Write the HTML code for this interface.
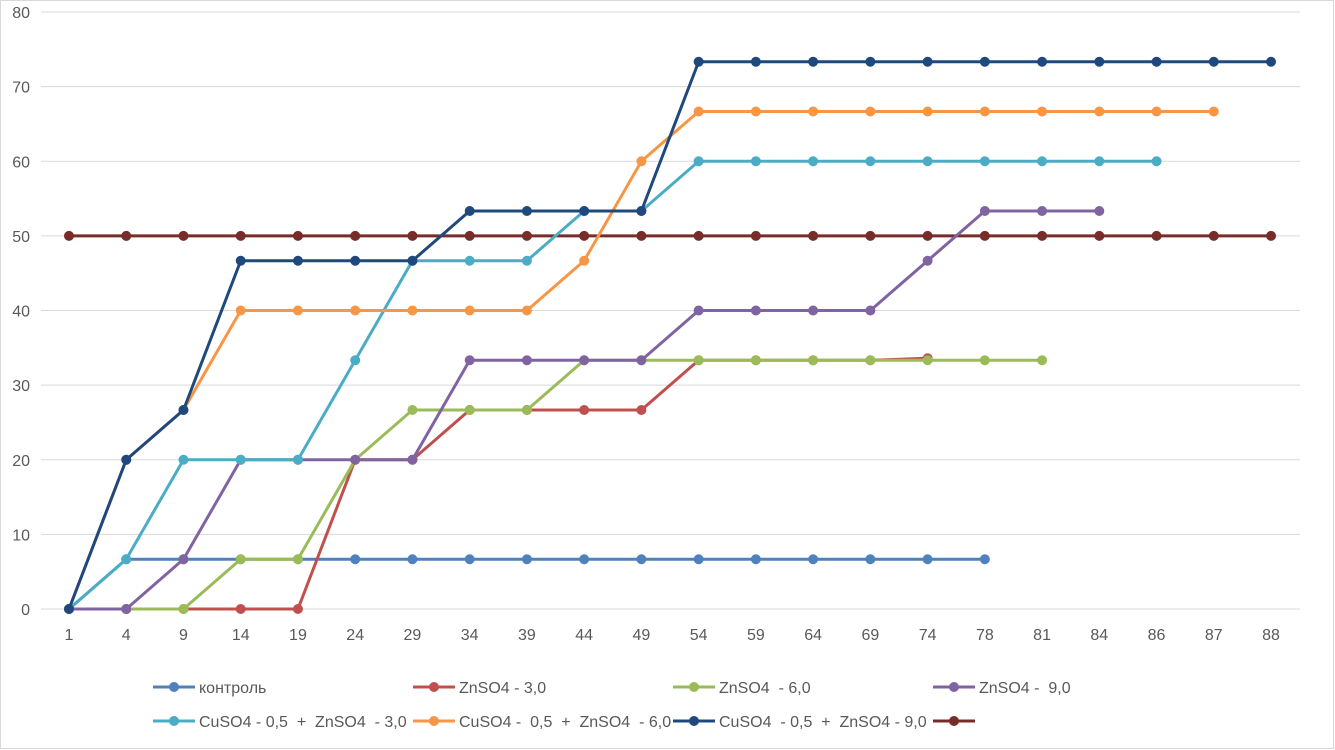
<!DOCTYPE html>
<html><head><meta charset="utf-8"><style>
body{margin:0;background:#fff}
svg{display:block;font-family:"Liberation Sans",sans-serif}
</style></head><body>
<svg id="c" width="1335" height="750" xmlns="http://www.w3.org/2000/svg"></svg>
<script>
const s=document.getElementById('c');let h='';
h+='<rect x="0.5" y="0.5" width="1333" height="748" fill="#fff" stroke="#d9d9d9"/>';
const Y=v=>609-v*7.4625, X=i=>69+i*57.24;
for(let v=0;v<=80;v+=10){h+=`<line x1="41" x2="1300" y1="${Y(v)}" y2="${Y(v)}" stroke="#d9d9d9"/>`;
h+=`<text x="30" y="${Y(v)+6}" text-anchor="end" font-size="16" fill="#595959">${v}</text>`;}
const cats=[1,4,9,14,19,24,29,34,39,44,49,54,59,64,69,74,78,81,84,86,87,88];
cats.forEach((c,i)=>h+=`<text x="${X(i)}" y="640" text-anchor="middle" font-size="16" fill="#595959">${c}</text>`);
const a=6.67,b=26.67,c3=33.33,d=46.67,e=53.33,f=66.67,g=73.33;
const S=[
['#4F81BD','контроль',[0,a,a,a,a,a,a,a,a,a,a,a,a,a,a,a,a]],
['#C0504D','ZnSO4 - 3,0',[0,0,0,0,0,20,20,b,b,b,b,c3,c3,c3,c3,33.6]],
['#9BBB59','ZnSO4  - 6,0',[0,0,0,a,a,20,b,b,b,c3,c3,c3,c3,c3,c3,c3,c3,c3]],
['#8064A2','ZnSO4 -  9,0',[0,0,a,20,20,20,20,c3,c3,c3,c3,40,40,40,40,d,e,e,e]],
['#4BACC6','CuSO4 - 0,5  +  ZnSO4  - 3,0',[0,a,20,20,20,c3,d,d,d,e,e,60,60,60,60,60,60,60,60,60]],
['#F79646','CuSO4 -  0,5  +  ZnSO4  - 6,0',[0,20,b,40,40,40,40,40,40,d,60,f,f,f,f,f,f,f,f,f,f]],
['#1F497D','CuSO4  - 0,5  +  ZnSO4 - 9,0',[0,20,b,d,d,d,d,e,e,e,e,g,g,g,g,g,g,g,g,g,g,g]],
['#772C2A','',Array(22).fill(50)]];
const ord=[7,0,1,2,3,4,5,6];
S.forEach((sr,k)=>{
 if(k==7)return;
});
[7,0,1,2,3,4,5,6].forEach(k=>{const [col,,d2]=S[k];
 h+=`<polyline fill="none" stroke="${col}" stroke-width="3" stroke-linejoin="round" points="${d2.map((v,i)=>X(i)+','+Y(v)).join(' ')}"/>`;
 d2.forEach((v,i)=>h+=`<circle cx="${X(i)}" cy="${Y(v)}" r="5" fill="${col}"/>`);
});
const lx=[153,413,673,933];
S.forEach((sr,k)=>{const r=Math.floor(k/4),x=lx[k%4],y=r?721:687;
 h+=`<line x1="${x}" x2="${x+42}" y1="${y}" y2="${y}" stroke="${sr[0]}" stroke-width="3"/><circle cx="${x+21}" cy="${y}" r="5" fill="${sr[0]}"/>`;
 h+=`<text x="${x+46}" y="${y+6}" font-size="16" fill="#595959" xml:space="preserve">${sr[1]}</text>`;});
s.innerHTML=h;
</script>
</body></html>
